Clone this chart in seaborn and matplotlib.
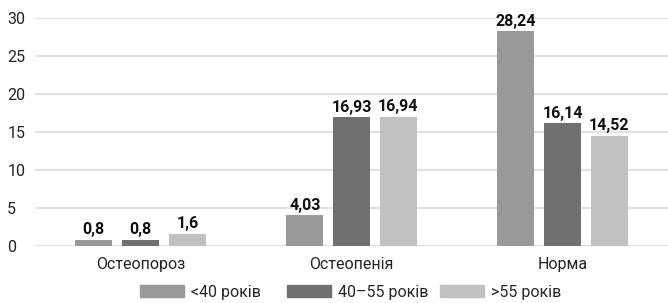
import matplotlib
matplotlib.use("Agg")
import matplotlib.pyplot as plt
import pandas as pd
import seaborn as sns
from matplotlib.font_manager import fontManager

categories = ["Остеопороз", "Остеопенія", "Норма"]
groups = ["<40 років", "40–55 років", ">55 років"]
under_40 = [0.8, 4.03, 28.24]
age_40_55 = [0.8, 16.93, 16.14]
over_55 = [1.6, 16.94, 14.52]
value_labels = [["0,8", "4,03", "28,24"],
                ["0,8", "16,93", "16,14"],
                ["1,6", "16,94", "14,52"]]
y_ticks = [0, 5, 10, 15, 20, 25, 30]

colors = ["#98999b", "#6f7072", "#c1c1c1"]

df = pd.DataFrame({
    "category": categories * 3,
    "group": [g for g in groups for _ in categories],
    "value": under_40 + age_40_55 + over_55,
})

sns.set_theme(style="white")
installed = {f.name for f in fontManager.ttflist}
fams = [f for f in ["Liberation Sans Narrow", "DejaVu Sans Condensed", "Roboto"] if f in installed]
plt.rcParams["font.family"] = fams + ["DejaVu Sans"]

fig, ax = plt.subplots(figsize=(6.68, 3.03), dpi=100)
fig.subplots_adjust(left=35 / 668, right=1.0, bottom=57 / 303, top=285 / 303)

sns.barplot(data=df, x="category", y="value", hue="group", order=categories,
            hue_order=groups, palette=colors, width=0.665, gap=0.2,
            saturation=1, linewidth=0, legend=False, ax=ax)

for container, labels in zip(ax.containers, value_labels):
    ax.bar_label(container, labels=labels, padding=2, fontsize=11.5,
                 fontweight="bold", color="#111111")

ax.set_ylim(0, 30)
ax.set_xlim(-0.5, 2.5)
ax.set_yticks(y_ticks)
ax.yaxis.grid(True, color="#e2e2e2", linewidth=1.5)
ax.set_axisbelow(True)
for s in ax.spines.values():
    s.set_visible(False)
ax.tick_params(axis="both", length=0, labelsize=11.5, colors="#222222")
ax.tick_params(axis="y", pad=20)
ax.tick_params(axis="x", pad=8)
for t in ax.get_yticklabels():
    t.set_horizontalalignment("left")
ax.set_xlabel("")
ax.set_ylabel("")

# legend entries sit at fixed slots, like the source layout
slots = [140 / 668, 287 / 668, 440 / 668]
for c, g, x0 in zip(colors, groups, slots):
    fig.legend([plt.Rectangle((0, 0), 1, 1, color=c)], [g],
               loc="center left", bbox_to_anchor=(x0, 11 / 303),
               frameon=False, fontsize=11.5, handlelength=2.75,
               handleheight=0.75, handletextpad=0.45,
               borderpad=0, borderaxespad=0)

fig.savefig("out.png", dpi=100)
